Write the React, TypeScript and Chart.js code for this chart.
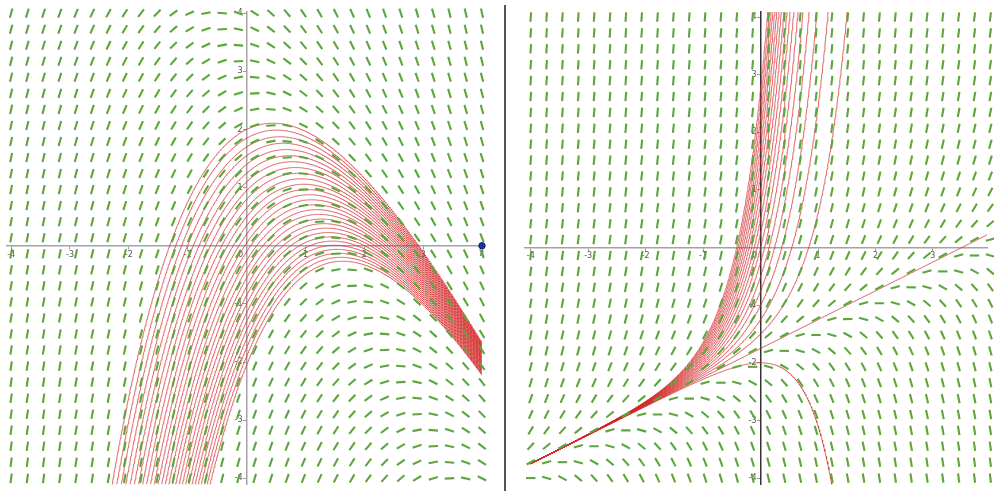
import React, { useEffect, useRef } from 'react';
import { Chart, registerables } from 'chart.js';

Chart.register(...registerables);

// Slope-field sample positions (same on both axes, both panels)
const GRID = [
  -4, -3.724, -3.448, -3.172, -2.897, -2.621, -2.345, -2.069, -1.793, -1.517,
  -1.241, -0.966, -0.69, -0.414, -0.138, 0.138, 0.414, 0.69, 0.966, 1.241,
  1.517, 1.793, 2.069, 2.345, 2.621, 2.897, 3.172, 3.448, 3.724, 4,
];

// Tick labels
const LEFT_TICKS_X = [-4, -3, -2, -1, 0, 1, 2, 3, 4];
const RIGHT_TICKS_X = [-4, -3, -2, -1, 0, 1, 2, 3];
const TICKS_Y = [-4, -3, -2, -1, 1, 2, 3, 4];

// Differential equations y' = A + B*x + C*y  (coefficients [A, B, C])
const LEFT_ODE = [1.5, -1, -0.5];
const RIGHT_ODE = [4, -1, 2];

// Starting values y(0) of the drawn solution curves
const LEFT_Y0 = [
  2.0, 1.85, 1.7, 1.55, 1.4, 1.25, 1.1, 0.95, 0.8, 0.65, 0.5, 0.35, 0.2, 0.05,
  -0.1, -0.25, -0.4, -0.55, -0.7, -0.85, -1.0, -1.15, -1.3, -1.45, -1.6, -1.75,
  -1.9, -2.05,
];
const RIGHT_Y0 = [
  -2, -1.75, -1.5, -1.25, -1, -0.75, -0.5, -0.25, 0, 0.25, 0.5, 0.75, 1, 1.25,
  1.5, 1.75, 2, 2.25, 2.5, 2.75,
];

// Curve domains
const LEFT_CURVE_X = [-4.07, 4];
const RIGHT_CURVE_X = [-4, 4];

// Marked point
const LEFT_POINT = [{ x: 4, y: 0 }];

const slopeOf = (ode: number[], x: number, y: number) => ode[0] + ode[1] * x + ode[2] * y;

const solution = (ode: number[], y0: number, x: number) => {
  const [a, b, c] = ode;
  const q = -b / c;
  const p = (q - a) / c;
  return p + q * x + (y0 - p) * Math.exp(c * x);
};

function fieldData(ode: number[]) {
  const pts: any[] = [];
  for (const y of GRID) for (const x of GRID) pts.push({ x, y, s: slopeOf(ode, x, y) });
  return pts;
}

function curveData(ode: number[], y0: number, range: number[]) {
  const pts: any[] = [];
  const n = 800;
  let started = false;
  for (let i = 0; i <= n; i++) {
    const x = range[0] + ((range[1] - range[0]) * i) / n;
    const y = solution(ode, y0, x);
    if (Math.abs(y) > 9) {
      if (started) { pts.push({ x, y }); break; }
      continue;
    }
    if (!started && pts.length === 0 && i > 0) {
      const xp = range[0] + ((range[1] - range[0]) * (i - 1)) / n;
      pts.push({ x: xp, y: solution(ode, y0, xp) });
    }
    started = true;
    pts.push({ x, y });
  }
  return pts;
}

const FONT = { family: 'DejaVu Sans', size: 8 };

function makeConfig(p: any) {
  const datasets: any[] = [];
  if (p.point) {
    datasets.push({
      data: p.point,
      order: 0,
      clip: false,
      pointStyle: 'circle',
      pointRadius: 3.2,
      pointHoverRadius: 3.2,
      pointBackgroundColor: '#1d32a8',
      pointBorderColor: '#101c70',
      pointBorderWidth: 1,
    });
  }
  datasets.push({
    data: fieldData(p.ode),
    order: 1,
    clip: false,
    pointStyle: 'line',
    pointRadius: 4.7,
    pointHoverRadius: 4.7,
    borderColor: '#5ea540',
    pointBorderColor: '#5ea540',
    pointBorderWidth: 2.1,
    borderWidth: 2.1,
    pointRotation: (ctx: any) => {
      const d = ctx.raw;
      if (!d) return 0;
      const xs = ctx.chart.scales.x;
      const ys = ctx.chart.scales.y;
      const r =
        Math.abs(ys.getPixelForValue(1) - ys.getPixelForValue(0)) /
        Math.abs(xs.getPixelForValue(1) - xs.getPixelForValue(0));
      return (-Math.atan(d.s * r) * 180) / Math.PI;
    },
  });
  for (const y0 of p.y0s) {
    datasets.push({
      data: curveData(p.ode, y0, p.curveX),
      order: 2,
      showLine: true,
      pointRadius: 0,
      pointHoverRadius: 0,
      borderColor: 'rgba(212,45,45,0.72)',
      borderWidth: 1,
      tension: 0,
    });
  }
  return {
    type: 'scatter',
    data: { datasets },
    options: {
      responsive: false,
      animation: false,
      devicePixelRatio: 1,
      events: [],
      layout: { padding: p.padding },
      plugins: { legend: { display: false }, tooltip: { enabled: false } },
      scales: {
        x: {
          type: 'linear',
          min: p.xMin,
          max: p.xMax,
          position: { y: 0 },
          afterBuildTicks: (s: any) => { s.ticks = p.ticksX.map((v: number) => ({ value: v })); },
          ticks: {
            autoSkip: false,
            maxRotation: 0,
            font: FONT,
            color: '#555',
            padding: 1,
            callback: (v: number) => (v === 0 ? '0\u2003\u2002' : String(v)),
          },
          grid: { drawOnChartArea: false, drawTicks: true, tickLength: 3, tickColor: '#999', color: '#999' },
          border: { display: true, color: '#a3a3a3', width: 1.5 },
        },
        y: {
          type: 'linear',
          min: p.yMin,
          max: p.yMax,
          position: { x: 0 },
          afterBuildTicks: (s: any) => { s.ticks = TICKS_Y.map((v: number) => ({ value: v })); },
          ticks: {
            autoSkip: false,
            font: FONT,
            color: '#555',
            padding: 1,
            callback: (v: number) => String(v) + '\u2002',
          },
          grid: { drawOnChartArea: false, drawTicks: true, tickLength: 3, tickColor: '#999', color: '#999' },
          border: { display: true, color: p.yAxisColor, width: 1.5 },
        },
      },
    },
  };
}

function Panel(props: any) {
  const ref = useRef<HTMLCanvasElement>(null);
  useEffect(() => {
    if (!ref.current) return;
    const chart = new Chart(ref.current, makeConfig(props.cfg) as any);
    return () => chart.destroy();
  }, []);
  return (
    <canvas
      ref={ref}
      width={props.width}
      height={491}
      style={{ position: 'absolute', left: props.left, top: 0, width: props.width, height: 491, display: 'block' }}
    />
  );
}

const LEFT_CFG = {
  ode: LEFT_ODE,
  y0s: LEFT_Y0,
  curveX: LEFT_CURVE_X,
  point: LEFT_POINT,
  ticksX: LEFT_TICKS_X,
  xMin: -4.07,
  xMax: 4.0,
  yMin: -4.1,
  yMax: 4.02,
  padding: { left: 7, right: 21, top: 12, bottom: 0 },
  yAxisColor: '#a3a3a3',
};

const RIGHT_CFG = {
  ode: RIGHT_ODE,
  y0s: RIGHT_Y0,
  curveX: RIGHT_CURVE_X,
  point: null,
  ticksX: RIGHT_TICKS_X,
  xMin: -4.1,
  xMax: 3.945,
  yMin: -4.106,
  yMax: 4.087,
  padding: { left: 19, right: 0, top: 12, bottom: 0 },
  yAxisColor: '#333',
};

export default function App() {
  return (
    <div style={{ position: 'absolute', left: 0, top: 0, width: 994, height: 491, background: '#fff', overflow: 'hidden' }}>
      <Panel cfg={LEFT_CFG} left={0} width={503} />
      <div style={{ position: 'absolute', left: 504, top: 5, width: 2, height: 486, background: '#555' }} />
      <Panel cfg={RIGHT_CFG} left={506} width={488} />
    </div>
  );
}
